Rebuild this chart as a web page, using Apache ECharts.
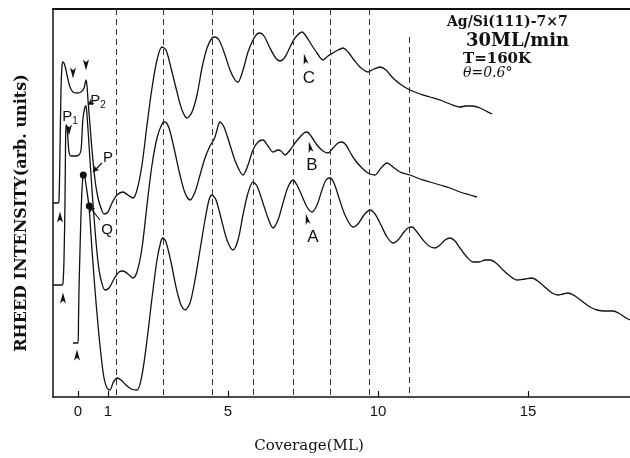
<!DOCTYPE html>
<html>
<head>
<meta charset="utf-8">
<script src="https://cdn.jsdelivr.net/npm/echarts@6/dist/echarts.min.js"></script>
<style>html,body{margin:0;padding:0;background:#fff}#c{width:630px;height:458px}</style>
</head>
<body>
<div id="c"></div>
<script>
// Coverage (ML) tick labels
const coverageTicks = [0, 1, 5, 10, 15];
// Dashed guide lines (coverage, ML) and their top (intensity units)
const dashCoverage = [1.27, 2.83, 4.47, 5.83, 7.17, 8.4, 9.7, 11.03];
const dashTop = [388, 388, 388, 388, 388, 388, 388, 360];

// Curve C (top)
const curveC = [[-0.833,194],[-0.667,194],[-0.633,197],[-0.6,247],[-0.567,307],[-0.533,331],[-0.5,335],[-0.433,331],[-0.367,322],[-0.267,310],[-0.167,305],[-0.033,304],[0.1,305],[0.2,309],[0.267,317],[0.3,311],[0.333,297],[0.4,272],[0.467,247],[0.567,217],[0.667,199],[0.767,189],[0.867,183],[1.0,185],[1.133,194],[1.3,202],[1.5,205],[1.667,202],[1.833,199],[1.967,207],[2.133,232],[2.3,272],[2.467,309],[2.633,337],[2.8,350],[2.933,347],[3.1,329],[3.3,305],[3.467,287],[3.633,279],[3.8,285],[3.967,302],[4.133,329],[4.3,349],[4.467,359],[4.567,360],[4.7,357],[4.867,345],[5.067,327],[5.233,317],[5.333,315],[5.5,327],[5.667,345],[5.833,357],[5.967,363],[6.067,364],[6.2,361],[6.367,351],[6.567,340],[6.733,336],[6.9,340],[7.067,350],[7.233,359],[7.467,365],[7.6,361],[7.767,353],[7.967,344],[8.167,337],[8.333,341],[8.5,344],[8.667,347],[8.833,349],[9.0,345],[9.2,337],[9.4,330],[9.667,325],[9.867,328],[10.067,330],[10.267,327],[10.467,320],[10.733,313],[11.067,307],[11.4,303],[11.733,300],[12.067,297],[12.4,293],[12.733,290],[12.933,291],[13.167,291],[13.4,289],[13.6,286],[13.8,283]];

// Curve B (middle)
const curveB = [[-0.833,112],[-0.533,112],[-0.5,114],[-0.467,137],[-0.433,197],[-0.417,247],[-0.4,272],[-0.367,269],[-0.333,257],[-0.3,245],[-0.233,241],[-0.1,241],[0.033,242],[0.1,247],[0.133,262],[0.167,279],[0.233,290],[0.267,291],[0.3,282],[0.367,252],[0.467,207],[0.567,167],[0.667,135],[0.767,117],[0.9,107],[1.033,109],[1.2,118],[1.367,125],[1.5,126],[1.667,123],[1.833,119],[1.967,125],[2.133,149],[2.3,192],[2.467,232],[2.633,259],[2.8,273],[2.9,275],[3.033,269],[3.2,249],[3.4,222],[3.567,204],[3.733,197],[3.9,205],[4.067,222],[4.233,239],[4.4,251],[4.5,256],[4.567,260],[4.633,267],[4.733,275],[4.867,270],[5.067,252],[5.267,234],[5.5,222],[5.667,232],[5.833,247],[6.0,255],[6.167,257],[6.333,251],[6.5,245],[6.667,247],[6.767,246],[6.9,242],[7.067,247],[7.233,254],[7.4,260],[7.533,264],[7.633,265],[7.767,261],[7.967,252],[8.167,246],[8.333,244],[8.5,249],[8.667,254],[8.8,255],[8.933,252],[9.067,245],[9.233,237],[9.467,229],[9.667,224],[9.9,222],[10.1,229],[10.3,234],[10.5,230],[10.733,225],[11.067,222],[11.4,218],[11.733,215],[12.067,212],[12.4,209],[12.733,205],[13.067,202],[13.3,200]];

// Curve A (bottom)
const curveA = [[-0.167,54],[0,54],[0.017,77],[0.033,107],[0.067,147],[0.1,182],[0.133,207],[0.167,221],[0.2,223],[0.267,212],[0.367,190],[0.467,147],[0.567,107],[0.667,72],[0.767,42],[0.867,19],[0.967,9],[1.067,7],[1.167,14],[1.3,19],[1.433,17],[1.6,12],[1.767,8],[1.967,7],[2.133,22],[2.3,57],[2.467,99],[2.633,137],[2.767,156],[2.833,159],[2.933,155],[3.1,135],[3.267,110],[3.433,92],[3.567,87],[3.733,94],[3.9,117],[4.067,147],[4.233,177],[4.367,197],[4.467,202],[4.6,197],[4.767,179],[4.967,157],[5.167,147],[5.333,157],[5.5,182],[5.667,204],[5.833,215],[5.967,211],[6.133,197],[6.333,179],[6.5,169],[6.667,177],[6.833,194],[7.0,210],[7.167,217],[7.3,212],[7.467,201],[7.633,190],[7.8,185],[7.967,192],[8.133,207],[8.267,217],[8.4,219],[8.533,214],[8.7,199],[8.9,182],[9.167,170],[9.333,173],[9.533,182],[9.733,187],[9.9,183],[10.1,172],[10.3,160],[10.5,154],[10.667,157],[10.867,165],[11.0,169],[11.133,170],[11.3,165],[11.5,157],[11.7,151],[11.9,149],[12.067,152],[12.233,157],[12.4,159],[12.567,156],[12.733,149],[12.933,141],[13.167,135],[13.367,135],[13.567,137],[13.733,137],[13.933,134],[14.167,127],[14.4,121],[14.633,117],[14.9,118],[15.133,119],[15.367,115],[15.6,109],[15.8,104],[16.0,102],[16.167,103],[16.333,104],[16.567,101],[16.833,95],[17.067,90],[17.3,87],[17.567,86],[17.833,86],[18.067,83],[18.267,79],[18.4,77]];

// Marked points P and Q
const dotsPQ = [[0.177,222],[0.377,191]];
// Arrowhead markers
const upArrows = [[-0.6,180],[-0.5,99],[-0.033,42]];
const downArrows = [[-0.167,324],[0.267,332],[-0.3,267]];
const letterArrows = [[7.567,338],[7.733,250],[7.633,178]];
// Text labels
const letterNames = ['C','B','A'];
const letterPos = [[7.7,319],[7.8,232],[7.833,160]];
const pLabelNames = ['P{s|1}','P{s|2}','P','Q'];
const pLabelPos = [[-0.267,280],[0.667,296],[1.0,239],[0.967,167]];
// Pointer segments [from, to]
const pointers = [[[0.467,295],[0.333,292]],[[0.8,234],[0.5,225]],[[0.733,177],[0.367,191]]];

const ink = '#111';
const arrowPath = 'path://M0,0 L4,12 L0,9 L-4,12 Z';
const solid = { color: ink, opacity: 1 };

const chart = echarts.init(document.getElementById('c'));
const curveStyle = { color: ink, width: 1.3 };
chart.setOption({
  animation: false,
  backgroundColor: '#fff',
  grid: { left: 53, right: 0, top: 9, bottom: 61, outerBoundsMode: 'none' },
  xAxis: [{
    type: 'value', min: -0.8333, max: 18.4, position: 'bottom',
    axisLine: { show: true, onZero: false, lineStyle: { color: ink, width: 1.5 } },
    axisTick: { show: true, inside: true, length: 6, customValues: coverageTicks, lineStyle: { color: ink, width: 1.2 } },
    axisLabel: { show: true, customValues: coverageTicks, margin: 7, fontSize: 15, color: ink, fontFamily: 'Liberation Sans' },
    splitLine: { show: false }
  }, {
    type: 'value', min: -0.8333, max: 18.4, position: 'top',
    axisLine: { show: true, onZero: false, lineStyle: { color: ink, width: 2 } },
    axisTick: { show: false }, axisLabel: { show: false }, splitLine: { show: false }
  }],
  yAxis: {
    type: 'value', min: 0, max: 388, position: 'left',
    axisLine: { show: true, onZero: false, lineStyle: { color: ink, width: 1.5 } },
    axisTick: { show: false }, axisLabel: { show: false }, splitLine: { show: false }
  },
  series: [
    { type: 'line', data: curveA, showSymbol: false, smooth: 0.3, lineStyle: curveStyle,
      markLine: {
        silent: true, symbol: 'none', label: { show: false },
        lineStyle: { color: '#333', width: 1, type: [6, 4] },
        data: dashCoverage.map((x, i) => [{ coord: [x, dashTop[i]] }, { coord: [x, 0] }])
      } },
    { type: 'line', data: curveB, showSymbol: false, smooth: 0.3, lineStyle: curveStyle },
    { type: 'line', data: curveC, showSymbol: false, smooth: 0.3, lineStyle: curveStyle,
      markLine: {
        silent: true, symbol: ['none', 'arrow'], symbolSize: [5, 6], label: { show: false },
        lineStyle: { color: ink, width: 1.2, type: 'solid' },
        data: pointers.map(p => [{ coord: p[0] }, { coord: p[1] }])
      } },
    { type: 'scatter', data: dotsPQ, symbol: 'circle', symbolSize: 7, itemStyle: solid },
    { type: 'scatter', data: upArrows, symbol: arrowPath, symbolSize: [6, 11], itemStyle: solid },
    { type: 'scatter', data: downArrows, symbol: arrowPath, symbolSize: [6, 11], symbolRotate: 180, itemStyle: solid },
    { type: 'scatter', data: letterArrows, symbol: arrowPath, symbolSize: [5, 11], symbolRotate: 12, itemStyle: solid },
    { type: 'scatter', symbolSize: 0, itemStyle: solid,
      data: letterNames.map((n, i) => ({ name: n, value: letterPos[i] })),
      label: { show: true, position: 'inside', formatter: '{b}', fontSize: 17, color: ink, fontFamily: 'Liberation Sans' } },
    { type: 'scatter', symbolSize: 0, itemStyle: solid,
      data: pLabelNames.map((n, i) => ({ name: n, value: pLabelPos[i] })),
      label: { show: true, position: 'inside', formatter: '{b}', fontSize: 15, color: ink, fontFamily: 'Liberation Sans',
        rich: { s: { fontSize: 10, verticalAlign: 'bottom', padding: [8, 0, 0, 0], color: ink, fontFamily: 'Liberation Sans' } } } }
  ],
  graphic: [
    { type: 'text', left: 447, top: 15, style: { text: 'Ag/Si(111)-7×7', font: 'bold 14px "DejaVu Serif"', fill: ink } },
    { type: 'text', left: 466, top: 32, style: { text: '30ML/min', font: 'bold 18px "DejaVu Serif"', fill: ink } },
    { type: 'text', left: 463, top: 52, style: { text: 'T=160K', font: 'bold 15px "DejaVu Serif"', fill: ink } },
    { type: 'text', left: 463, top: 66, style: { text: 'θ=0.6°', font: 'italic 14px "DejaVu Serif"', fill: ink } },
    { type: 'text', x: 309, y: 446, style: { text: 'Coverage(ML)', font: '15px "DejaVu Serif"', fill: ink, align: 'center', verticalAlign: 'middle' } },
    { type: 'text', x: 22, y: 213, rotation: Math.PI / 2, style: { text: 'RHEED INTENSITY(arb. units)', font: 'bold 16px "DejaVu Serif"', fill: ink, align: 'center', verticalAlign: 'middle' } }
  ]
});
</script>
</body>
</html>
